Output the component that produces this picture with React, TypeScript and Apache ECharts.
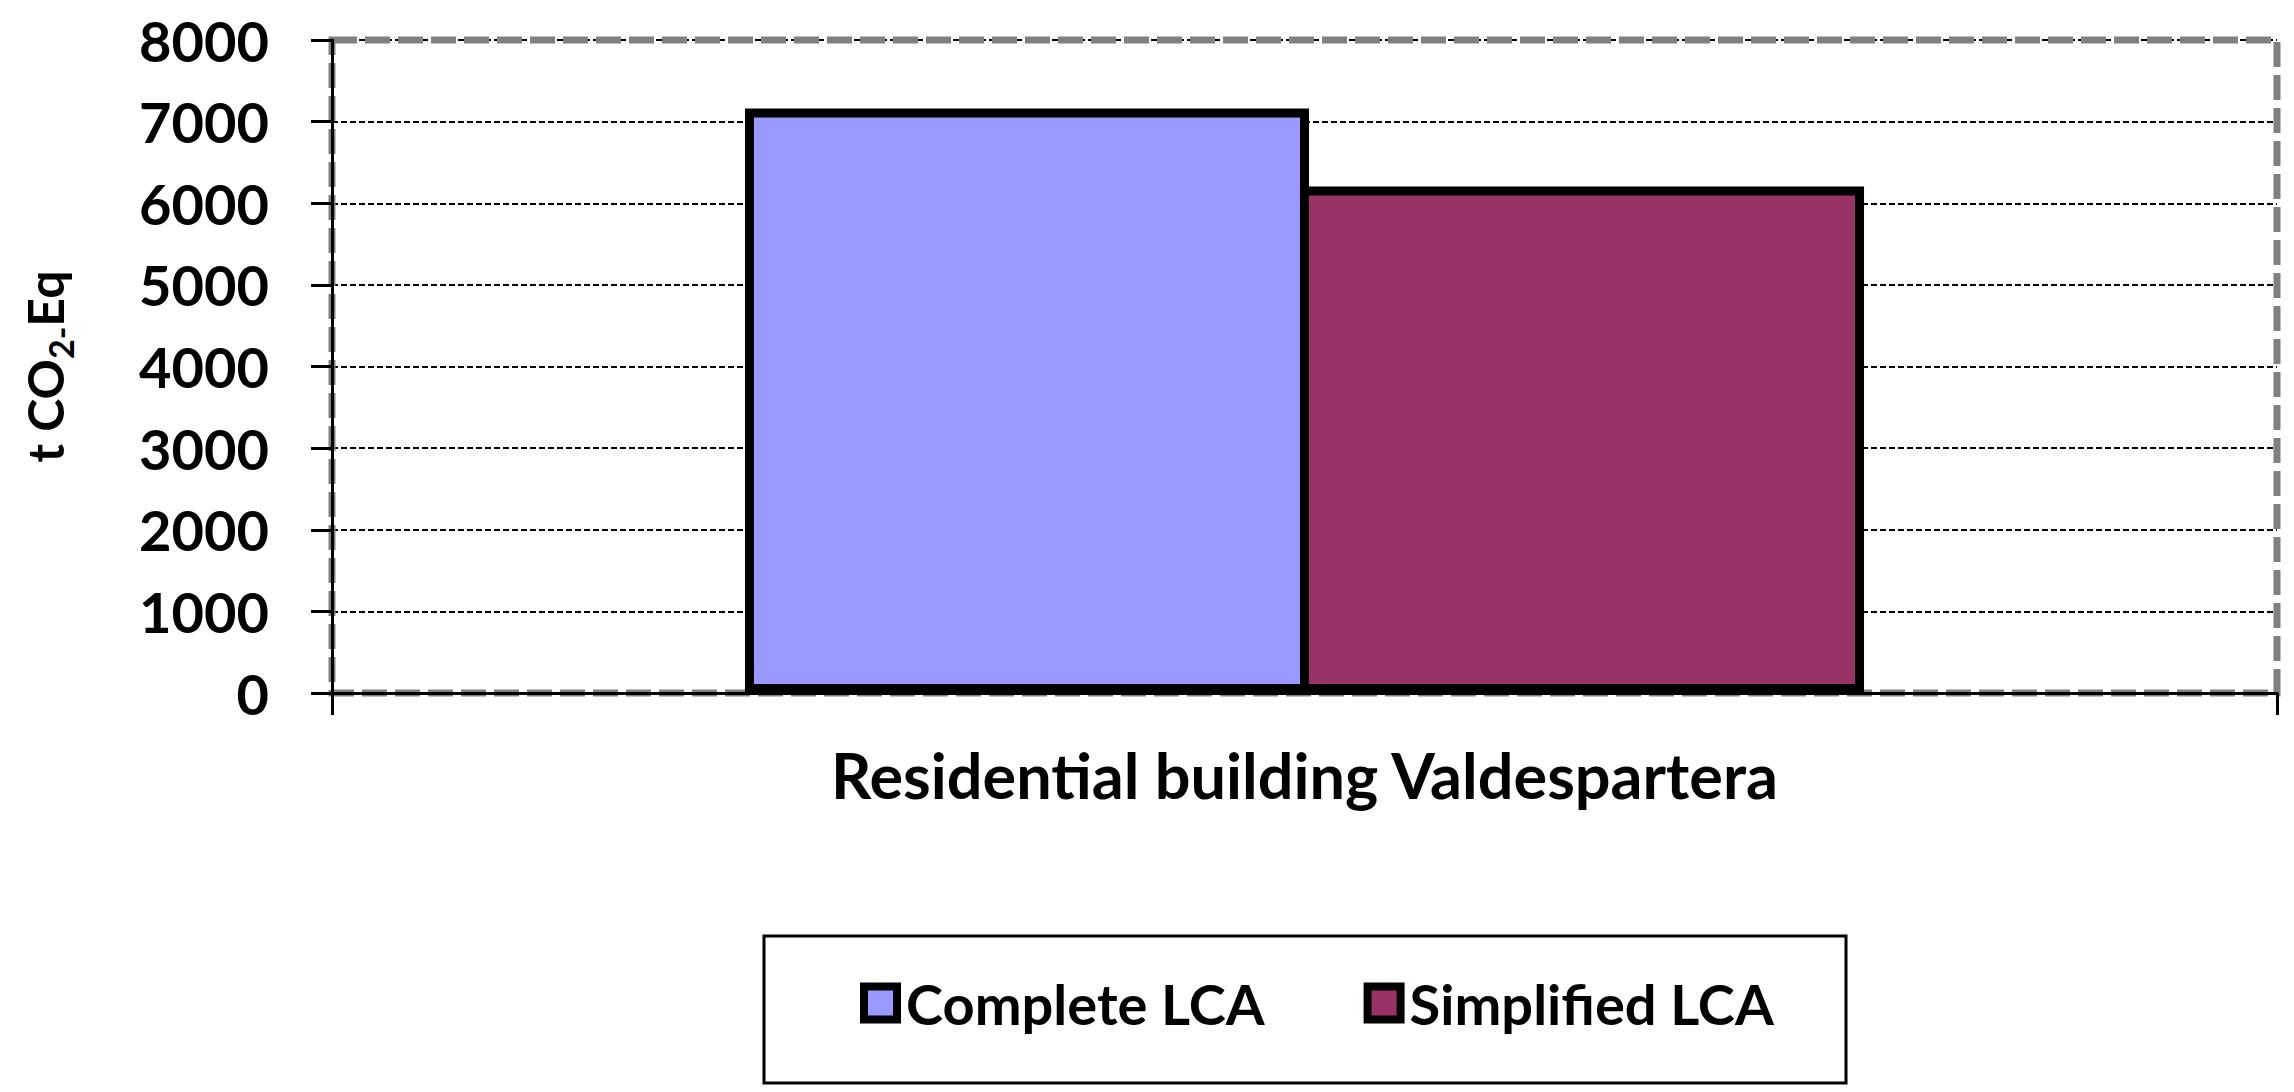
import React, { useEffect, useRef } from 'react';
import * as echarts from 'echarts';

const categories = ['Residential building Valdespartera'];
const seriesNames = ['Complete LCA', 'Simplified LCA'];
const completeLCA = [7160];
const simplifiedLCA = [6205];
const seriesColors = ['#9999FF', '#993366'];
const yMin = 0;
const yMax = 8000;
const yStep = 1000;

const FONT = 'Lato';
const FS = 56;

export default function App() {
  const ref = useRef<HTMLDivElement>(null);
  useEffect(() => {
    document.body.style.margin = '0';
    const chart = echarts.init(ref.current!, null, { renderer: 'svg' });
    const gridL = 332, gridT = 40, gridR = 17, gridB = 399;
    const W = 2294, H = 1092;
    chart.setOption({
      animation: false,
      backgroundColor: '#ffffff',
      grid: { left: gridL, top: gridT, right: gridR, bottom: gridB, containLabel: false },
      legend: {
        data: seriesNames,
        left: 860,
        top: 975,
        padding: 0,
        itemWidth: 33,
        itemHeight: 33,
        itemGap: 99,
        icon: 'rect',
        itemStyle: { borderColor: '#000', borderWidth: 8 },
        textStyle: { fontFamily: FONT, fontWeight: 'bold', fontSize: FS, color: '#000', padding: [0, 0, 0, 4] },
      },
      graphic: [
        {
          type: 'rect',
          z: 2,
          shape: { x: gridL, y: gridT, width: W - gridL - gridR, height: H - gridT - gridB },
          style: { fill: 'none', stroke: '#808080', lineWidth: 7, lineDash: [25, 8] },
        },
        {
          type: 'rect',
          z: 0,
          shape: { x: 764, y: 936, width: 1082, height: 147 },
          style: { fill: '#fff', stroke: '#000', lineWidth: 3 },
        },
      ],
      xAxis: {
        type: 'category',
        data: categories,
        z: 3,
        axisLine: { show: true, lineStyle: { color: '#000', width: 3 } },
        axisTick: { show: true, length: 22, lineStyle: { color: '#000', width: 3 } },
        axisLabel: { margin: 50, fontFamily: FONT, fontWeight: 'bold', fontSize: 63, color: '#000' },
        splitLine: { show: false },
      },
      yAxis: [
        {
          type: 'value',
          min: yMin,
          max: yMax,
          interval: yStep,
          z: 3,
          name: '{a|t CO}{s|2-}{a|Eq}',
          nameLocation: 'middle',
          nameRotate: 90,
          nameGap: 255,
          nameTextStyle: {
            rich: {
              a: { fontFamily: FONT, fontWeight: 'bold', fontSize: 50, color: '#000', lineHeight: 64 },
              s: { fontFamily: FONT, fontWeight: 'bold', fontSize: 34, color: '#000', lineHeight: 34, verticalAlign: 'bottom' },
            },
          },
          axisLine: { show: true, lineStyle: { color: '#000', width: 3 } },
          axisTick: { show: true, length: 21, lineStyle: { color: '#000', width: 3 } },
          axisLabel: {
            margin: 63,
            fontFamily: FONT,
            fontWeight: 'bold',
            fontSize: FS,
            color: '#000',
            formatter: (v: number) => String(v),
          },
          splitLine: { show: false },
        },
        {
          type: 'value',
          min: yMin,
          max: yMax,
          interval: yStep,
          z: 1,
          axisLine: { show: false },
          axisTick: { show: false },
          axisLabel: { show: false },
          splitLine: { show: true, lineStyle: { color: '#000', width: 2, type: [6, 3] } },
        },
      ],
      series: [
        {
          type: 'bar',
          name: seriesNames[0],
          data: completeLCA,
          yAxisIndex: 0,
          barWidth: '29%',
          barGap: '-1.6%',
          z: 4,
          itemStyle: { color: seriesColors[0], borderColor: '#000', borderWidth: 9 },
        },
        {
          type: 'bar',
          name: seriesNames[1],
          data: simplifiedLCA,
          yAxisIndex: 0,
          barWidth: '29%',
          barGap: '-1.6%',
          z: 4,
          itemStyle: { color: seriesColors[1], borderColor: '#000', borderWidth: 9 },
        },
      ],
    });
    return () => chart.dispose();
  }, []);
  return <div ref={ref} style={{ position: 'absolute', left: 0, top: 0, width: 2294, height: 1092 }} />;
}
